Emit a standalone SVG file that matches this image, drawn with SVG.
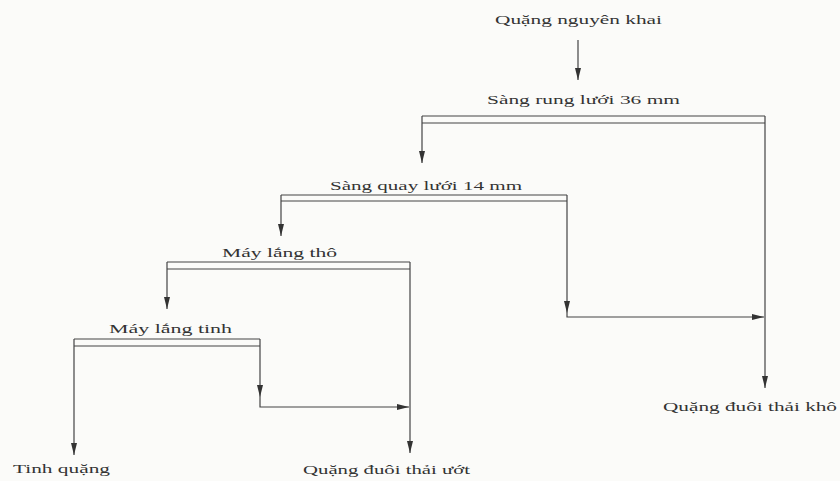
<svg xmlns="http://www.w3.org/2000/svg" width="840" height="481" viewBox="0 0 840 481">
<style>
.t{font-family:"Liberation Serif","DejaVu Serif",serif;font-size:12.5px;fill:#333;}
.l{stroke:#444;stroke-width:1.2;fill:none;}
</style>
<defs>
<marker id="a" viewBox="0 0 12 6" refX="12" refY="3" markerWidth="12" markerHeight="6" markerUnits="userSpaceOnUse" orient="auto">
<path d="M0,0 L12,3 L0,6 Z" fill="#333"/>
</marker>
</defs>
<rect width="840" height="481" fill="#fbfbf9"/>
<g id="connectors" class="l">
<line x1="578" y1="40" x2="578" y2="80" marker-end="url(#a)"/>
<!-- Sang rung bar -->
<path d="M422,116 H765 M422,123 H765"/>
<line x1="422" y1="116" x2="422" y2="163" marker-end="url(#a)"/>
<line x1="765" y1="116" x2="765" y2="388" marker-end="url(#a)"/>
<!-- Sang quay bar -->
<path d="M281,195 H567 M281,201 H567"/>
<line x1="281" y1="195" x2="281" y2="236" marker-end="url(#a)"/>
<line x1="567" y1="195" x2="567" y2="313" marker-end="url(#a)"/>
<path d="M567,313 V317 H764" marker-end="url(#a)"/>
<!-- May lang tho bar -->
<path d="M167,262 H410 M167,269 H410"/>
<line x1="167" y1="262" x2="167" y2="309" marker-end="url(#a)"/>
<line x1="410" y1="262" x2="410" y2="453" marker-end="url(#a)"/>
<!-- May lang tinh bar -->
<path d="M74,339 H260 M74,346 H260"/>
<line x1="74" y1="339" x2="74" y2="455" marker-end="url(#a)"/>
<line x1="260" y1="339" x2="260" y2="397" marker-end="url(#a)"/>
<path d="M260,397 V407 H409" marker-end="url(#a)"/>
</g>
<g id="n1"><text class="t" x="495" y="24" textLength="167" lengthAdjust="spacingAndGlyphs">Quặng nguyên khai</text></g>
<g id="n2"><text class="t" x="487" y="104" textLength="193" lengthAdjust="spacingAndGlyphs">Sàng rung lưới 36 mm</text></g>
<g id="n3"><text class="t" x="330" y="190" textLength="192" lengthAdjust="spacingAndGlyphs">Sàng quay lưới 14 mm</text></g>
<g id="n4"><text class="t" x="222" y="257" textLength="115" lengthAdjust="spacingAndGlyphs">Máy lắng thô</text></g>
<g id="n5"><text class="t" x="109" y="333" textLength="123" lengthAdjust="spacingAndGlyphs">Máy lắng tinh</text></g>
<g id="n6"><text class="t" x="13" y="473" textLength="97" lengthAdjust="spacingAndGlyphs">Tinh quặng</text></g>
<g id="n7"><text class="t" x="303" y="474" textLength="167" lengthAdjust="spacingAndGlyphs">Quặng đuôi thải ướt</text></g>
<g id="n8"><text class="t" x="663" y="411" textLength="174" lengthAdjust="spacingAndGlyphs">Quặng đuôi thải khô</text></g>
</svg>
